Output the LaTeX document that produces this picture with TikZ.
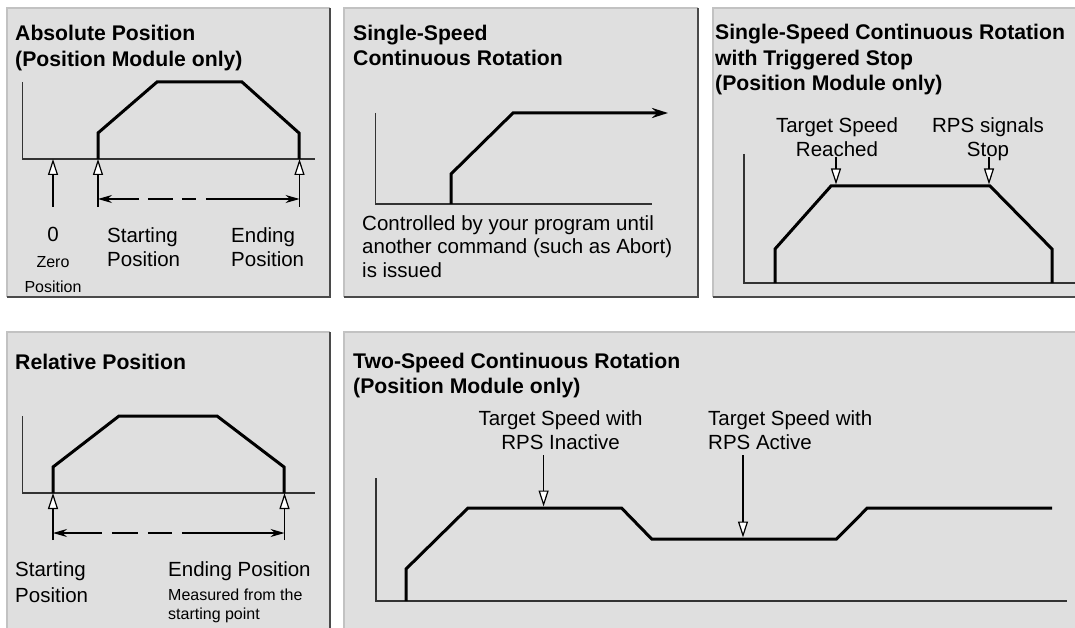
\documentclass[tikz,border=0pt]{standalone}
\usepackage{fontspec}
\setmainfont{Liberation Sans}
\usepackage{xcolor}
\usepackage{tikz}
\usetikzlibrary{arrows.meta}

\definecolor{panelfill}{HTML}{DFDFDF}
\definecolor{panellight}{HTML}{C2C2C2}
\definecolor{paneldark}{HTML}{4A4A4A}
\definecolor{axisgray}{HTML}{333333}

\begin{document}
\begin{tikzpicture}[x=1pt, y=-1pt,
    panel/.style={fill=panelfill, draw=none},
    lightedge/.style={draw=panellight, line width=1.6pt},
    darkedge/.style={draw=paneldark, line width=2.2pt},
    axis/.style={draw=axisgray, line width=1.1pt},
    profile/.style={line width=3pt, line join=miter},
    title/.style={anchor=north west, inner sep=0pt, align=left,
        font=\fontsize{21.2}{25.5}\selectfont\bfseries},
    lbl/.style={inner sep=0pt, font=\fontsize{20.5}{24.5}\selectfont},
    small/.style={inner sep=0pt, font=\fontsize{16}{19.5}\selectfont},
    marker/.style={line width=1.1pt, -{Triangle[length=16pt, width=10pt, fill=white, line width=1.2pt]}},
    span/.style={line width=1.1pt,
        {Stealth[length=14pt, width=8pt]}-{Stealth[length=14pt, width=8pt]}}]

    % Page
    \fill[white] (0,0) rectangle (1075,628);
    \useasboundingbox (0,0) rectangle (1075,628);

    % Panels
    \path[panel] (7,8) rectangle (330,297);
    \draw[lightedge] (7,297) -- (7,8) -- (330,8);
    \draw[darkedge] (330,8) -- (330,297) -- (7,297);

    \path[panel] (344,8) rectangle (698,297);
    \draw[lightedge] (344,297) -- (344,8) -- (698,8);
    \draw[darkedge] (698,8) -- (698,297) -- (344,297);

    \path[panel] (713,8) rectangle (1080,297);
    \draw[lightedge] (713,297) -- (713,8) -- (1080,8);
    \draw[darkedge] (713,297) -- (1080,297);

    \path[panel] (7,332) rectangle (330,640);
    \draw[lightedge] (7,640) -- (7,332) -- (330,332);
    \draw[darkedge] (330,332) -- (330,640);

    \path[panel] (344,332) rectangle (1080,640);
    \draw[lightedge] (344,640) -- (344,332) -- (1080,332);

    % Absolute position
    \node[title] (abstitle) at (15,25.3) {Absolute Position\\(Position Module only)};
    \draw[axis] (22.7,82) -- (22.7,159) -- (315,159);
    \draw[profile] (98,159) -- (98,133) -- (157,82) -- (242,82) -- (299,133) -- (299,159);
    \coordinate (zerolow) at (53,207);
    \coordinate (zeroaxis) at (53,159);
    \coordinate (abslow) at (98,207);
    \coordinate (absaxis) at (98,159);
    \coordinate (abelow) at (299.5,207);
    \coordinate (abeaxis) at (299.5,159);
    \coordinate (absspan) at (98,199);
    \coordinate (abespan) at (299.5,199);
    \draw[marker] (zerolow) -- (zeroaxis);
    \draw[marker] (abslow) -- (absaxis);
    \draw[marker] (abelow) -- (abeaxis);
    \draw[span, dash pattern=on 32pt off 9pt on 25pt off 9pt on 14pt off 10pt on 120pt] (absspan) -- (abespan);
    \node[lbl, anchor=base] (zero) at (53,242) {0};
    \node[small, anchor=base] (zeroname) at (53,267) {Zero};
    \node[small, anchor=base] (zeropos) at (53,292) {Position};
    \node[lbl, anchor=north west, align=left] (startabs) at (107,227.2) {Starting\\Position};
    \node[lbl, anchor=north west, align=left] (endabs) at (231,227.2) {Ending\\Position};

    % Single-speed continuous rotation
    \node[title] (sstitle) at (353,24.5) {Single-Speed\\Continuous Rotation};
    \draw[axis] (375.7,113) -- (375.7,204) -- (652,204);
    \draw[profile, -{Stealth[length=16pt, width=10pt]}] (451,204) -- (451,174) -- (513,113) -- (668,113);
    \node[lbl, anchor=north west, align=left, font=\fontsize{20.5}{23.5}\selectfont] (ctrltxt) at (362,215.3)
        {Controlled by your program until\\another command (such as Abort)\\is issued};

    % Single-speed continuous rotation with triggered stop
    \node[title] (tstitle) at (715,24) {Single-Speed Continuous Rotation\\with Triggered Stop\\(Position Module only)};
    \node[lbl, anchor=north, align=center] (reached) at (837,117) {Target Speed\\Reached};
    \node[lbl, anchor=north, align=center] (rpsstop) at (988,117) {RPS signals\\Stop};
    \coordinate (reachtop) at (836,157);
    \coordinate (reachline) at (836,184.5);
    \coordinate (stoptop) at (989,157);
    \coordinate (stopline) at (989,184.5);
    \draw[marker] (reachtop) -- (reachline);
    \draw[marker] (stoptop) -- (stopline);
    \draw[axis] (744,154) -- (744,283) -- (1080,283);
    \draw[profile] (775,283) -- (775,249) -- (831,186) -- (990,186) -- (1052,249) -- (1052,283);

    % Relative position
    \node[title, anchor=base west] (reltitle) at (15,369) {Relative Position};
    \draw[axis] (22.7,416) -- (22.7,493) -- (315,493);
    \draw[profile] (53,493) -- (53,467) -- (119,416) -- (217,416) -- (284,467) -- (284,493);
    \coordinate (rslow) at (53,540);
    \coordinate (rsaxis) at (53,493);
    \coordinate (relow) at (284.5,540);
    \coordinate (reaxis) at (284.5,493);
    \coordinate (rsspan) at (53,533);
    \coordinate (respan) at (284.5,533);
    \draw[marker] (rslow) -- (rsaxis);
    \draw[marker] (relow) -- (reaxis);
    \draw[span, dash pattern=on 40pt off 10pt on 26pt off 10pt on 24pt off 10pt on 130pt] (rsspan) -- (respan);
    \node[lbl, anchor=north west, align=left, font=\fontsize{20.5}{25.7}\selectfont] (startrel) at (15,561.3) {Starting\\Position};
    \node[lbl, anchor=base west] (endrel) at (168,576) {Ending Position};
    \node[small, anchor=north west, align=left] (measured) at (168,588.5) {Measured from the\\starting point};

    % Two-speed continuous rotation
    \node[title] (twotitle) at (353,352.6) {Two-Speed Continuous Rotation\\(Position Module only)};
    \node[lbl, anchor=north, align=center] (inactive) at (560.6,410.3) {Target Speed with\\RPS Inactive};
    \node[lbl, anchor=north west, align=left] (active) at (708,410.3) {Target Speed with\\RPS Active};
    \coordinate (inacttop) at (543.6,455);
    \coordinate (inactline) at (543.6,506.5);
    \coordinate (acttop) at (743,455);
    \coordinate (actline) at (743,537.5);
    \draw[marker] (inacttop) -- (inactline);
    \draw[marker] (acttop) -- (actline);
    \draw[axis] (376,478) -- (376,601) -- (1067,601);
    \draw[profile] (406,601) -- (406,569) -- (468,508) -- (621.5,508) -- (651.7,539) -- (836.6,539) -- (867.3,508) -- (1052,508);
\end{tikzpicture}
\end{document}
